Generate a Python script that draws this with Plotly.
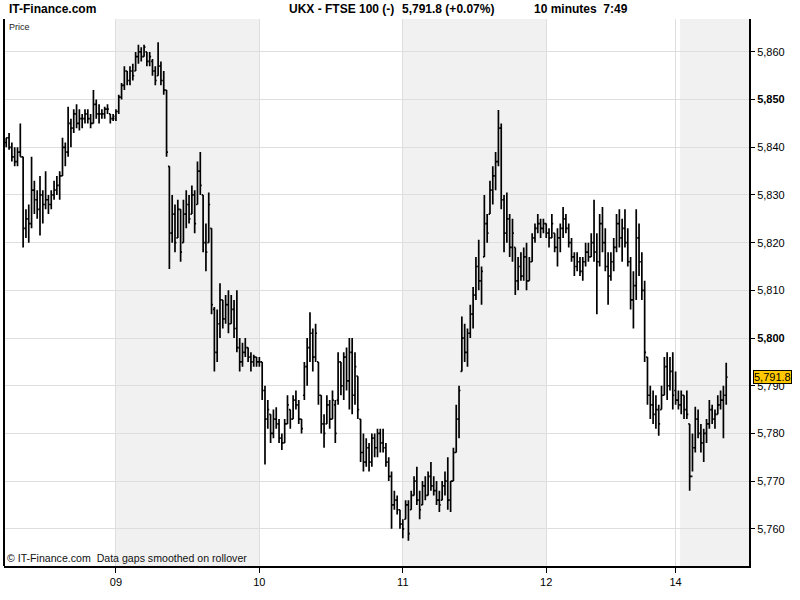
import plotly.graph_objects as go

# ---- data: 10-minute bars, FTSE 100 ----
day_labels = ["09", "10", "11", "12", "14"]
day_start_slot = [0, 51, 102, 153, 199]

lo_8 = [5840,5839.5,5837,5836,5836,5838,5819,5821,5820,5823,5826,5825,5821.5,5824,5827,5826,5827,5829,5830,5829,
        5834,5836,5838,5840,5843,5844,5843.5,5844,5845,5845,5844,5845,5846,5845,5846,5846,5847,5845,5845.5]
hi_8 = [5842,5843,5841,5840,5840,5845,5838,5827,5828,5838,5833,5831,5834,5831,5835,5830,5831,5833,5834,5835,
        5842,5841,5848.5,5846,5848,5849,5848,5847,5848,5848,5847,5852,5850,5849,5848,5848.5,5849,5847,5847]
op_8 = [5841,5842,5840,5838,5837,5839,5838,5823,5825,5824,5831,5829,5827,5830,5828,5829,5828,5830,5831,5832,
        5834,5840,5839,5845,5844,5847,5845,5846,5846,5847,5846,5845,5849,5847,5847,5847,5848,5847,5846]
cl_8 = [5842,5840,5838,5837,5839,5838,5823,5825,5824,5831,5829,5827,5830,5828,5829,5828,5830,5831,5832,5834,
        5840,5839,5845,5844,5847,5845,5846,5846,5847,5846,5845,5849,5847,5847,5847,5848,5848,5846,5846.5]

lo_9 = [5845.5,5847,5850,5852,5853,5853,5854,5856,5857.5,5858,5859,5857,5857,5855,5853,5855,5853,5851,5838,5814.5,
        5820,5818,5821,5816,5820,5823,5824,5826,5822,5828,5830,5818,5814,5820,5805,5793,5795,5800,5802,5803,
        5801,5803,5800,5797,5793,5794,5796,5795,5793,5794,5794]
hi_9 = [5848,5851,5853.5,5857,5856,5857,5857.5,5860,5861.5,5861,5861.5,5860,5860,5858.5,5857,5862,5858,5856,5852,5836,
        5830,5828,5829,5827,5829,5831,5830,5832,5831,5837,5839,5830,5824,5830.5,5823,5806.5,5806,5811.5,5808,5809,
        5810,5809,5808,5810,5800,5799,5800,5798,5797,5796.5,5796]
op_9 = [5846,5847.5,5850.5,5853,5856,5854,5856,5856,5859,5860,5859,5860,5858,5858,5856,5855,5857,5854,5852,5836,
        5822,5826,5821,5827,5820,5826,5828,5826,5830,5828,5835,5830,5820,5820,5823,5806,5797,5803,5808,5804,
        5807,5803,5806,5802,5798,5795,5797,5798,5796,5795,5796]
cl_9 = [5847.5,5850.5,5853,5856,5854,5856,5855,5859,5860,5859,5861,5858,5859,5856,5854,5857,5854,5852,5839,5822,
        5826,5820,5827,5818,5826,5828,5825,5830,5824,5835,5832,5820,5818,5828,5807,5797,5803,5808,5804,5807,
        5803,5806,5802,5798,5795,5797,5798,5796,5795,5796,5795]

lo_10 = [5794,5787,5773.5,5781,5778,5779,5781,5778,5776.5,5778,5782,5781,5783,5785,5782,5780,5787,5790,5795,5793,
         5795,5786,5780,5777,5782,5781,5783,5778,5786,5788,5787,5789,5785,5784,5786,5783,5774,5772,5773,5772,
         5773,5775,5775,5776,5776,5773,5770,5760,5764,5763,5760]
hi_10 = [5796,5795,5790,5787,5784,5785,5785.5,5783,5780,5783,5788,5785,5788,5789,5787,5783,5795,5800,5805.4,5802,
         5803,5795,5788,5784,5788,5787,5789,5787,5797,5795,5797,5798,5800,5800,5797,5792,5783,5780,5779,5778,
         5780,5780,5781,5781,5781,5778,5775,5772,5768,5767,5764]
op_10 = [5795,5795,5789,5783,5784,5780,5783,5782,5779,5778,5782,5785,5783,5787,5786,5783,5788,5794,5798,5801,
         5796,5795,5788,5782,5782,5786,5783,5786,5787,5795,5790,5796,5791,5797,5788,5792,5783,5776,5774,5777,
         5774,5779,5777,5780,5778,5777,5774,5771,5765,5766,5764]
cl_10 = [5795,5789,5783,5785,5780,5783,5782,5779,5778,5782,5786,5783,5787,5786,5783,5781,5794,5798,5801,5796,
         5801,5788,5782,5780,5786,5783,5787,5780,5795,5790,5796,5791,5797,5788,5794,5785,5776,5774,5777,5774,
         5779,5777,5780,5778,5777,5774,5771,5765,5766,5764,5761]

lo_11 = [5758,5762,5757.5,5764,5767,5765,5762,5765,5766,5767,5768,5767,5765,5763.5,5766,5767,5764,5763.5,5770,5776,
         5779,5793,5795,5794,5800,5802,5808,5810,5807,5817,5820,5826,5828,5831,5836,5827,5818,5820,5817,5816,
         5809,5810,5812,5812,5810,5812,5816,5820,5822,5821,5822]
hi_11 = [5762,5766,5766,5768,5771,5773,5768,5770,5771,5772,5774,5771,5770,5768,5770,5772,5775,5770,5777,5786,
         5790,5804.5,5803,5802,5807,5810.7,5817,5820.6,5815,5830,5826,5833,5836,5839,5847.8,5845,5830,5830.5,5826,5825,
         5819,5817,5818,5819,5820,5817,5822,5824,5826,5825,5825]
op_11 = [5761,5762,5765,5764,5767,5770,5766,5765,5769,5767,5771,5769,5768,5766,5766,5769,5770,5766,5770,5776,
         5783,5793,5800,5797,5801,5805,5809,5815,5812,5817,5824,5826,5831,5834,5837,5844,5829,5822,5825,5819,
         5819,5812,5815,5813,5817,5812,5816,5821,5823,5824,5823]
cl_11 = [5760,5765,5759,5767,5770,5766,5764,5769,5767,5771,5769,5768,5766,5765,5769,5770,5766,5770,5776,5783,
         5789,5800,5797,5801,5805,5809,5815,5812,5814,5824,5822,5831,5834,5837,5844,5829,5822,5825,5819,5822,
         5812,5815,5813,5817,5812,5816,5821,5823,5824,5823,5824]

lo_12 = [5821,5819,5821,5818,5815,5818,5821,5822,5819,5816,5813,5814,5813,5812,5815,5816,5817,5816,5805,5815,
         5818,5814,5807,5812,5814,5818,5819,5816,5819,5815,5806,5802,5808,5813,5808,5795,5786,5783,5782,5781,
         5779.5,5785,5788,5787,5789,5785]
hi_12 = [5824,5823,5826,5822,5823,5824,5827.5,5826,5824,5821,5818,5818,5817,5817,5820,5820,5822,5829,5822,5826,
         5827.5,5823,5818,5818,5821,5826,5827,5825,5827,5823,5817,5814,5827,5824,5818,5812,5796,5790,5789,5788,
         5786,5790,5796,5797,5796,5797]
op_12 = [5824,5822,5821,5822,5819,5821,5823,5825,5823,5820,5817,5815,5816,5814,5816,5818,5817,5820,5818,5816,
         5824,5820,5815,5813,5816,5819,5824,5821,5823,5820,5816,5808,5811,5821,5816,5810,5796,5788,5786,5784,
         5785,5785,5788,5794,5790,5793]
cl_12 = [5822,5821,5824,5819,5821,5823,5825,5823,5820,5817,5815,5816,5814,5816,5818,5817,5820,5818,5816,5824,
         5820,5815,5813,5816,5819,5824,5821,5823,5820,5816,5808,5811,5821,5816,5810,5797,5788,5786,5784,5785,
         5782,5788,5794,5790,5793,5788]

lo_14 = [5786,5785,5784,5783,5783,5768,5772,5776,5779,5776,5774,5778,5781,5782,5781,5784,5785,5779,5786]
hi_14 = [5793,5789,5789,5788,5789,5782,5780,5785.6,5785,5782,5781,5783,5787,5786,5785,5788,5789,5790,5794.8]
op_14 = [5789,5787,5786,5788,5785,5782,5771,5777,5783,5780,5778,5780,5782,5785,5783,5784,5786,5787,5788]
cl_14 = [5787,5786,5788,5785,5784,5771,5777,5783,5780,5778,5780,5782,5785,5783,5784,5786,5787,5788,5791.8]

last_price = 5791.8
y_ticks = [5760, 5770, 5780, 5790, 5800, 5810, 5820, 5830, 5840, 5850, 5860]

# ---- assemble ----
opens = op_8 + op_9 + op_10 + op_11 + op_12 + op_14
highs = hi_8 + hi_9 + hi_10 + hi_11 + hi_12 + hi_14
lows = lo_8 + lo_9 + lo_10 + lo_11 + lo_12 + lo_14
closes = cl_8 + cl_9 + cl_10 + cl_11 + cl_12 + cl_14
slots = list(range(-len(op_8), len(opens) - len(op_8)))

fig = go.Figure()
fig.add_trace(go.Ohlc(
    x=slots, open=opens, high=highs, low=lows, close=closes,
    increasing=dict(line=dict(color="#000000", width=1.7)),
    decreasing=dict(line=dict(color="#000000", width=1.7)),
    tickwidth=0.5, hoverinfo="skip", showlegend=False,
))

X0, X1 = -39.8, 225.1
Y0, Y1 = 5752.2, 5866.9
PLOT_L, PLOT_W = 4, 745

def px(x_pixel):
    return (x_pixel - PLOT_L) / PLOT_W

# shaded alternate days
shapes = []
for a, b in [(0, 51), (102, 153), (200.6, X1)]:
    shapes.append(dict(type="rect", xref="x", yref="paper", x0=a, x1=b, y0=0, y1=1,
                       fillcolor="#f1f1f1", line=dict(width=0), layer="below"))
# left frame line
shapes.append(dict(type="line", xref="paper", yref="paper", x0=0, x1=0, y0=0, y1=1,
                   line=dict(color="#000000", width=2)))

def fmt(v):
    s = f"{v:,}"
    return f"<b>{s}</b>" if v % 50 == 0 else s

title_font = dict(size=12, family="Liberation Sans, Arial, sans-serif")
fig.update_layout(
    width=800, height=600,
    margin=dict(l=4, r=51, t=19, b=34),
    paper_bgcolor="#ffffff", plot_bgcolor="#ffffff",
    font=dict(family="Liberation Sans, Arial, sans-serif", size=11, color="#000000"),
    shapes=shapes,
    xaxis=dict(
        range=[X0, X1], rangeslider=dict(visible=False),
        tickmode="array", tickvals=day_start_slot, ticktext=day_labels,
        showgrid=True, gridcolor="#dedede", gridwidth=1,
        ticks="outside", ticklen=5, tickcolor="#000000",
        showline=True, linecolor="#000000", linewidth=2,
        tickfont=dict(size=11), zeroline=False, fixedrange=True,
    ),
    yaxis=dict(
        range=[Y0, Y1], side="right",
        tickmode="array", tickvals=y_ticks, ticktext=[fmt(v) for v in y_ticks],
        showgrid=True, gridcolor="#dedede", gridwidth=1,
        ticks="outside", ticklen=4, tickcolor="#000000",
        showline=True, linecolor="#000000", linewidth=2,
        tickfont=dict(size=11), zeroline=False, fixedrange=True, automargin=False,
    ),
    annotations=[
        dict(text="<b>IT-Finance.com</b>", xref="paper", yref="paper", x=px(7), y=1.0, yshift=1,
             xanchor="left", yanchor="bottom", showarrow=False, font=title_font),
        dict(text="<b>UKX - FTSE 100 (-)</b>", xref="paper", yref="paper", x=px(287), y=1.0, yshift=1,
             xanchor="left", yanchor="bottom", showarrow=False, font=title_font),
        dict(text="<b>5,791.8 (+0.07%)</b>", xref="paper", yref="paper", x=px(400), y=1.0, yshift=1,
             xanchor="left", yanchor="bottom", showarrow=False, font=title_font),
        dict(text="<b>10 minutes  7:49</b>", xref="paper", yref="paper", x=px(532), y=1.0, yshift=1,
             xanchor="left", yanchor="bottom", showarrow=False, font=title_font),
        dict(text="Price", xref="paper", yref="paper", x=px(7), y=1.0, yshift=-1,
             xanchor="left", yanchor="top", showarrow=False, font=dict(size=9, color="#222222")),
        dict(text="© IT-Finance.com  Data gaps smoothed on rollover", xref="paper", yref="paper",
             x=px(5), y=0.0, yshift=0, xanchor="left", yanchor="bottom", showarrow=False,
             font=dict(size=10.6, color="#111111")),
        dict(text=f"{last_price:,.1f}", xref="paper", yref="y", x=1.0, y=last_price, xshift=4,
             xanchor="left", yanchor="middle", showarrow=False, bgcolor="#ffc800",
             bordercolor="#000000", borderwidth=1, borderpad=0, font=dict(size=11)),
    ],
)

fig.write_html("out.html", config={"displayModeBar": False},
               post_script="document.body.style.margin='0';document.body.style.padding='0';")
